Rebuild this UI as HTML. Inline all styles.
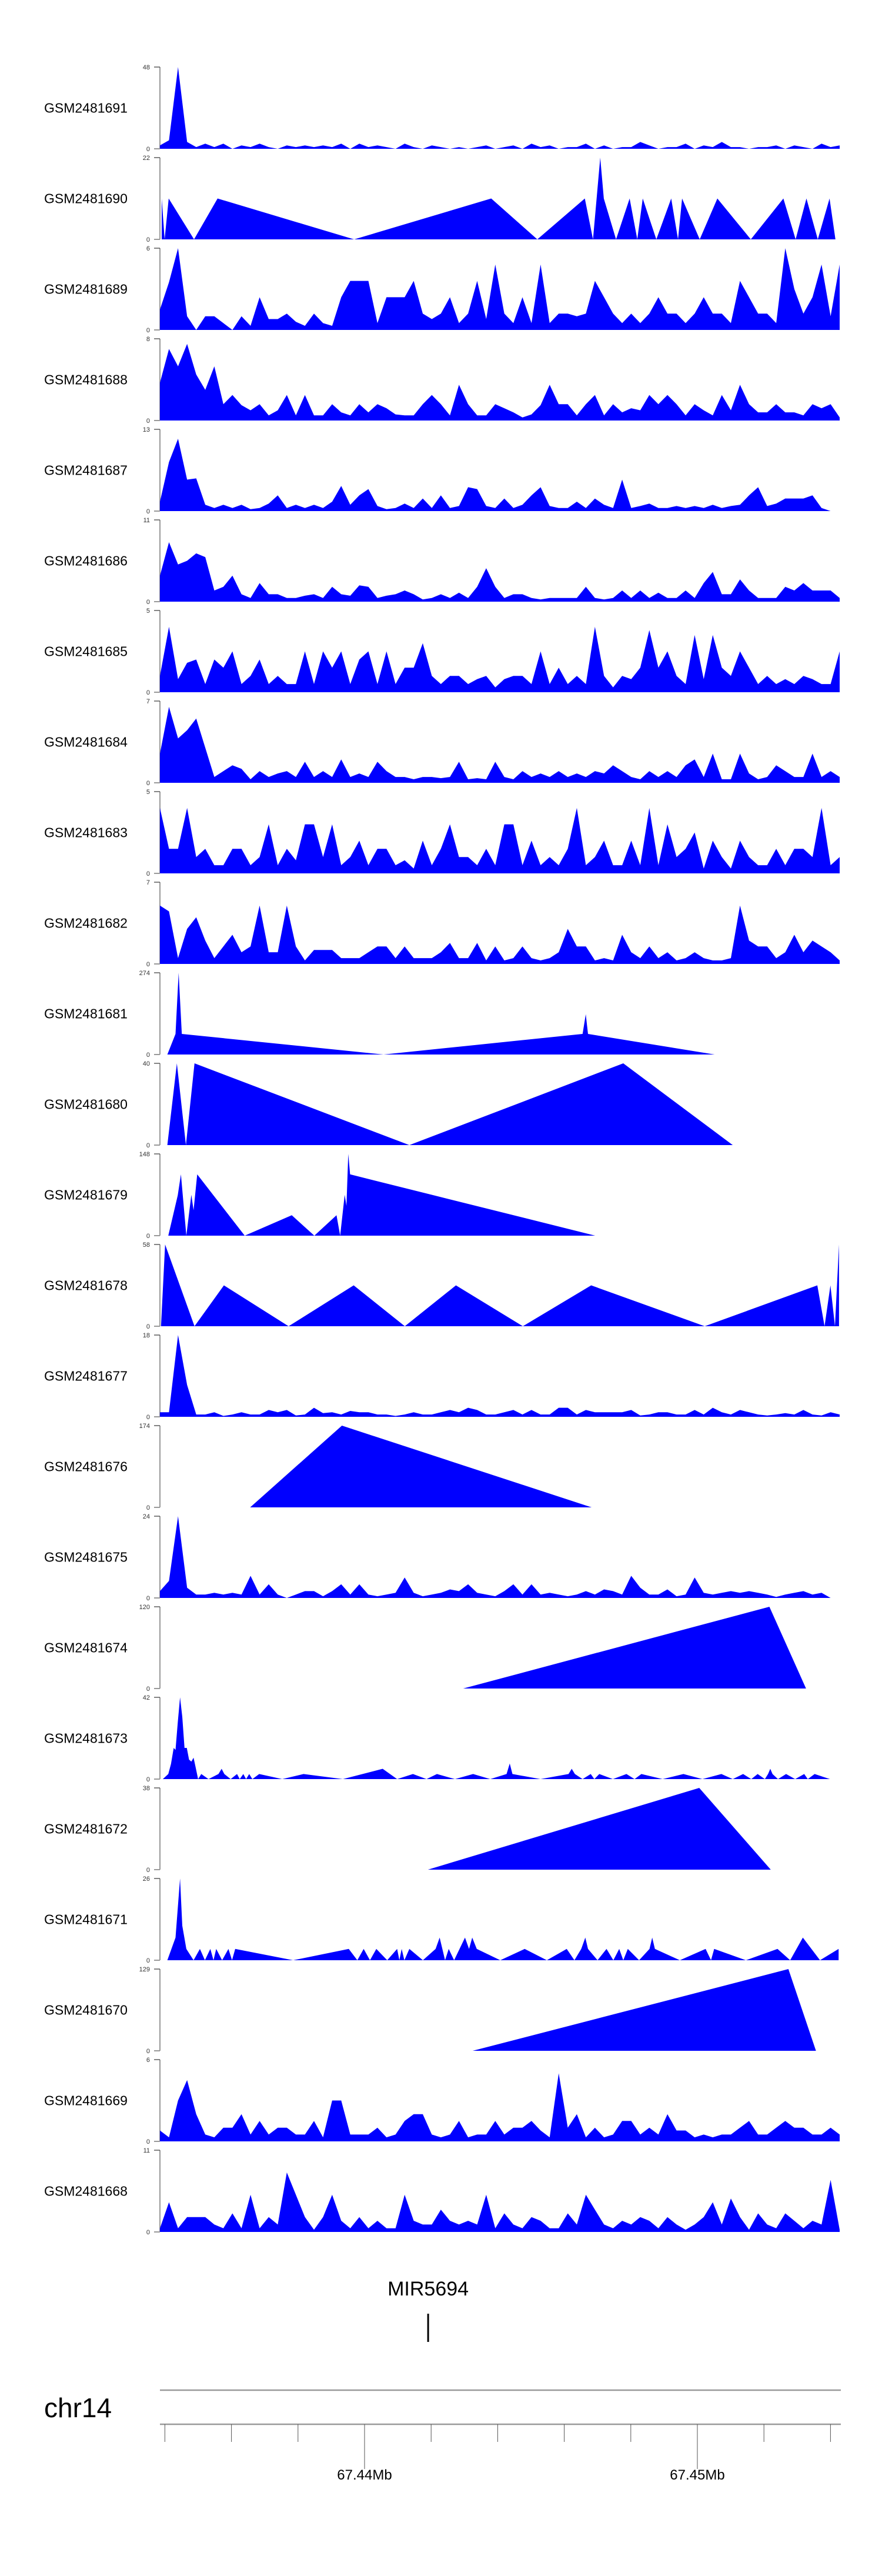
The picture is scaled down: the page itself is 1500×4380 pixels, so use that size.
<!DOCTYPE html>
<html><head><meta charset="utf-8"><title>Coverage tracks chr14</title>
<style>
html,body{margin:0;padding:0;background:#fff;}
svg{display:block;}
text{font-family:"Liberation Sans",Arial,sans-serif;}
</style></head>
<body>
<svg id="chart" width="1500" height="4380" viewBox="0 0 1500 4380" xmlns="http://www.w3.org/2000/svg"></svg>
<script>
// ---- data ----
const sampleNames = ["GSM2481691","GSM2481690","GSM2481689","GSM2481688","GSM2481687","GSM2481686","GSM2481685","GSM2481684","GSM2481683","GSM2481682","GSM2481681","GSM2481680","GSM2481679","GSM2481678","GSM2481677","GSM2481676","GSM2481675","GSM2481674","GSM2481673","GSM2481672","GSM2481671","GSM2481670","GSM2481669","GSM2481668"];
const trackMax = [48,22,6,8,13,11,5,7,5,7,274,40,148,58,18,174,24,120,42,38,26,129,6,11];

// uniformly binned coverage (bins across the region)
const cov1691 = [2,5,48,4,1,3,1,3,0,2, 1,3,1,0,2,1,2,1,2,1, 3,0,3,1,2,1,0,3,1,0, 2,1,0,1,0,1,2,0,1,2, 0,3,1,2,0,1,1,3,0,2, 0,1,1,4,2,0,1,1,3,0, 2,1,4,1,1,0,1,1,2,0, 2,1,0,3,1,2];
const cov1689 = [1.5,3.5,6,1,0,1,1,0.5,0,1, 0.3,2.4,0.8,0.8,1.2,0.6,0.3,1.2,0.5,0.3, 2.4,3.6,3.6,3.6,0.5,2.4,2.4,2.4,3.6,1.2, 0.8,1.2,2.4,0.5,1.2,3.6,0.8,4.8,1.2,0.5, 2.4,0.5,4.8,0.5,1.2,1.2,1,1.2,3.6,2.4, 1.2,0.5,1.2,0.5,1.2,2.4,1.2,1.2,0.5,1.2, 2.4,1.2,1.2,0.5,3.6,2.4,1.2,1.2,0.5,6, 3,1.2,2.4,4.8,1,4.8];
const cov1688 = [3.7,7,5.3,7.5,4.5,3,5.3,1.6,2.5,1.5, 1,1.6,0.5,1,2.5,0.5,2.5,0.5,0.5,1.6, 0.8,0.5,1.6,0.8,1.6,1.2,0.6,0.5,0.5,1.6, 2.5,1.6,0.5,3.5,1.6,0.5,0.5,1.6,1.2,0.8, 0.3,0.6,1.5,3.5,1.6,1.6,0.5,1.6,2.5,0.5, 1.6,0.8,1.2,1,2.5,1.6,2.5,1.6,0.5,1.6, 1,0.5,2.5,1,3.5,1.6,0.8,0.8,1.6,0.8, 0.8,0.5,1.6,1.2,1.6,0.3];
const cov1687 = [1.5,7.8,11.5,5,5.2,1,0.5,1,0.5,1, 0.3,0.5,1.2,2.5,0.5,1,0.5,1,0.5,1.5, 4,1,2.5,3.5,0.8,0.3,0.5,1.2,0.5,2, 0.5,2.5,0.5,0.8,3.8,3.5,0.8,0.5,2,0.5, 1,2.5,3.8,0.8,0.5,0.5,1.5,0.5,2,1, 0.5,5,0.5,0.8,1.2,0.5,0.5,0.8,0.5,0.8, 0.5,1,0.5,0.8,1,2.5,3.8,0.8,1.2,2, 2,2,2.5,0.5,0,0];
const cov1686 = [3.5,8,5,5.5,6.5,6,1.5,2,3.5,1, 0.5,2.5,1,1,0.5,0.5,0.8,1,0.5,2, 1,0.8,2.2,2,0.5,0.8,1,1.5,1,0.3, 0.5,1,0.5,1.2,0.5,2,4.5,2,0.5,1, 1,0.5,0.3,0.5,0.5,0.5,0.5,2,0.5,0.3, 0.5,1.5,0.5,1.5,0.5,1.2,0.5,0.5,1.5,0.5, 2.5,4,1,1,3,1.5,0.5,0.5,0.5,2, 1.5,2.5,1.5,1.5,1.5,0.5];
const cov1685 = [1,4,0.8,1.8,2,0.5,2,1.5,2.5,0.5, 1,2,0.5,1,0.5,0.5,2.5,0.5,2.5,1.5, 2.5,0.5,2,2.5,0.5,2.5,0.5,1.5,1.5,3, 1,0.5,1,1,0.5,0.8,1,0.3,0.8,1, 1,0.5,2.5,0.5,1.5,0.5,1,0.5,4,1, 0.3,1,0.8,1.5,3.8,1.5,2.5,1,0.5,3.5, 0.8,3.5,1.5,1,2.5,1.5,0.5,1,0.5,0.8, 0.5,1,0.8,0.5,0.5,2.5];
const cov1684 = [2.5,6.5,3.8,4.5,5.5,3,0.5,1,1.5,1.2, 0.3,1,0.5,0.8,1,0.5,1.8,0.5,1,0.5, 2,0.5,0.8,0.5,1.8,1,0.5,0.5,0.3,0.5, 0.5,0.4,0.5,1.8,0.3,0.4,0.3,1.8,0.5,0.3, 1,0.5,0.8,0.5,1,0.5,0.8,0.5,1,0.8, 1.5,1,0.5,0.3,1,0.5,1,0.5,1.5,2, 0.5,2.5,0.3,0.3,2.5,0.8,0.3,0.5,1.5,1, 0.5,0.5,2.5,0.5,1,0.5];
const cov1683 = [4,1.5,1.5,4,1,1.5,0.5,0.5,1.5,1.5, 0.5,1,3,0.5,1.5,0.8,3,3,1,3, 0.5,1,2,0.5,1.5,1.5,0.5,0.8,0.3,2, 0.5,1.5,3,1,1,0.5,1.5,0.5,3,3, 0.5,2,0.5,1,0.5,1.5,4,0.5,1,2, 0.5,0.5,2,0.5,4,0.5,3,1,1.5,2.5, 0.3,2,1,0.3,2,1,0.5,0.5,1.5,0.5, 1.5,1.5,1,4,0.5,1];
const cov1682 = [5,4.5,0.5,3,4,2,0.5,1.5,2.5,1, 1.5,5,1,1,5,1.5,0.3,1.2,1.2,1.2, 0.5,0.5,0.5,1,1.5,1.5,0.5,1.5,0.5,0.5, 0.5,1,1.8,0.5,0.5,1.8,0.3,1.5,0.3,0.5, 1.5,0.5,0.3,0.5,1,3,1.5,1.5,0.3,0.5, 0.3,2.5,1,0.5,1.5,0.5,1,0.3,0.5,1, 0.5,0.3,0.3,0.5,5,2,1.5,1.5,0.5,1, 2.5,1,2,1.5,1,0.3];
const cov1677 = [1,1,18,7,0.5,0.5,1,0.2,0.5,1, 0.5,0.5,1.5,1,1.5,0.3,0.5,2,0.8,1, 0.5,1.3,1,1,0.5,0.5,0.2,0.5,1,0.5, 0.5,1,1.5,1,2,1.5,0.5,0.5,1,1.5, 0.5,1.5,0.5,0.5,2,2,0.5,1.5,1,1, 1,1,1.5,0.3,0.5,1,1,0.5,0.5,1.5, 0.5,2,1,0.5,1.5,1,0.5,0.3,0.5,0.8, 0.5,1.5,0.5,0.3,1,0.5];
const cov1675 = [2,5,24,3,1,1,1.5,1,1.5,1, 6.5,1,4,1,0,1,2,2,0.5,2, 4,1,4,1,0.5,1,1.5,6,1.5,0.5, 1,1.5,2.5,2,4,1.5,1,0.5,2,4, 1,4,1,1.5,1,0.5,1,2,1,2.5, 2,1,6.5,3,1,1,2.5,0.5,1,6, 1.5,1,1.5,2,1.5,2,1.5,1,0.3,1, 1.5,2,1,1.5,0,0];
const cov1669 = [0.8,0.3,3,4.5,2,0.5,0.3,1,1,2, 0.5,1.5,0.5,1,1,0.5,0.5,1.5,0.3,3, 3,0.5,0.5,0.5,1,0.3,0.5,1.5,2,2, 0.5,0.3,0.5,1.5,0.3,0.5,0.5,1.5,0.5,1, 1,1.5,0.8,0.3,5,1,2,0.3,1,0.3, 0.5,1.5,1.5,0.5,1,0.5,2,0.8,0.8,0.3, 0.5,0.3,0.5,0.5,1,1.5,0.5,0.5,1,1.5, 1,1,0.5,0.5,1,0.5];
const cov1668 = [0.5,4,0.5,2,2,2,1,0.5,2.5,0.5, 5,0.5,2,1,8,5,2,0.3,2,5, 1.5,0.5,2,0.5,1.5,0.5,0.5,5,1.5,1, 1,3,1.5,1,1.5,1,5,0.5,2.5,1, 0.5,2,1.5,0.5,0.5,2.5,1,5,3,1, 0.5,1.5,1,2,1.5,0.5,2,1,0.3,1, 2,4,1,4.5,2,0.3,2.5,1,0.5,2.5, 1.5,0.5,1.5,1,7,0.3];

// explicit breakpoints (position in bins, value)
const pos1690 = [19.5,26,35,91,143,445,748,850,955,973,989,997,1024,1054,1071,1083,1113,1146,1161,1170,1209,1248,1322,1394,1421,1445,1470,1496,1509];
const val1690 = [11,0,11,0,11,0,11,0,11,0,22,11,0,11,0,11,0,11,0,11,0,11,0,11,0,11,0,11,0];
const pos1681 = [32,50,57,64,510,950,957,962,1242];
const val1681 = [0,69,274,69,0,69,135,69,0];
const pos1680 = [32,53,73,92,567,1040,1282];
const val1680 = [0,40,0,40,0,40,0];
const pos1679 = [34,55,62,74,85,90,98,203,307,357,406,414,424,428,432,436,978];
const val1679 = [0,73,111,0,74,46,111,0,37,0,37,0,74,54,148,111,0];
const pos1678 = [18,27,92,157,300,444,557,670,818,969,1220,1469,1485,1498,1508,1517];
const val1678 = [0,58,0,29,0,29,0,29,0,29,0,29,0,29,0,58];
const pos1676 = [215,418,970];
const val1676 = [0,174,0];
const pos1674 = [686,1363,1444];
const val1674 = [0,120,0];
const pos1673 = [22,34,40,46,50,55,60,65,70,75,80,85,90,95,100,107,123,145,152,158,172,186,192,200,206,213,220,235,286,333,420,508,540,575,605,628,668,708,746,782,789,795,857,919,926,933,950,968,976,987,1017,1047,1065,1080,1127,1173,1215,1257,1282,1305,1323,1337,1353,1360,1365,1370,1382,1400,1420,1440,1448,1463,1497];
const val1673 = [0,2.6,7.8,16,15,29,42,32,16,16,10,9,11,5.5,0,2.6,0,2.6,5.3,2.6,0,2.6,0,2.6,0,2.6,0,2.6,0,2.6,0,5.3,0,2.6,0,2.6,0,2.6,0,2.6,8,2.6,0,2.6,5.3,2.6,0,2.6,0,2.6,0,2.6,0,2.6,0,2.6,0,2.6,0,2.6,0,2.6,0,2.6,5.3,2.6,0,2.6,0,2.6,0,2.6,0];
const pos1672 = [608,1208,1366];
const val1672 = [0,38,0];
const pos1671 = [32,50,60,65,74,90,104,115,127,134,140,153,167,175,182,310,433,452,466,480,494,518,540,545,550,556,567,597,625,634,646,654,666,690,699,706,716,768,822,871,915,932,947,956,962,983,1003,1018,1031,1040,1050,1075,1098,1104,1110,1165,1222,1234,1241,1311,1381,1409,1437,1475,1516];
const val1671 = [0,7.2,26,11,3.6,0,3.6,0,3.6,0,3.6,0,3.6,0,3.6,0,3.6,0,3.6,0,3.6,0,3.6,0,3.6,0,3.6,0,3.6,7.2,0,3.6,0,7.2,3.6,7.2,3.6,0,3.6,0,3.6,0,3.6,7.2,3.6,0,3.6,0,3.6,0,3.6,0,3.6,7.2,3.6,0,3.6,0,3.6,0,3.6,0,7.2,0,3.6];
const pos1670 = [707,1405,1466];
const val1670 = [0,129,0];

const axisTicksMb = [67.434,67.436,67.438,67.44,67.442,67.444,67.446,67.448,67.45,67.452,67.454];
const axisLabelsMb = [67.44,67.45];
const geneName = "MIR5694";
const genePosMb = 67.44191;

// ---- layout ----
const svg = document.getElementById('chart');
const NS = 'http://www.w3.org/2000/svg';
const binStart = 15.6, binEnd = 1518.4;
const plotL = 272, plotR = 1428;
const xBin = b => plotL + (b - binStart) / (binEnd - binStart) * (plotR - plotL);
const xMb = mb => 620 + (mb - 67.44) / 0.002 * 113.2;
const trackTop = i => 114 + i * 154;
const trackH = 139;

function el(tag, attrs, parent) {
  const e = document.createElementNS(NS, tag);
  for (const k in attrs) e.setAttribute(k, attrs[k]);
  (parent || svg).appendChild(e);
  return e;
}
function uniform(vals) {
  const step = (binEnd - binStart) / (vals.length - 1);
  return vals.map((v, i) => [binStart + i * step, v]);
}
function pairs(p, v) { return p.map((x, i) => [x, v[i]]); }

const trackData = [
  uniform(cov1691), pairs(pos1690, val1690), uniform(cov1689), uniform(cov1688),
  uniform(cov1687), uniform(cov1686), uniform(cov1685), uniform(cov1684),
  uniform(cov1683), uniform(cov1682), pairs(pos1681, val1681), pairs(pos1680, val1680),
  pairs(pos1679, val1679), pairs(pos1678, val1678), uniform(cov1677), pairs(pos1676, val1676),
  uniform(cov1675), pairs(pos1674, val1674), pairs(pos1673, val1673), pairs(pos1672, val1672),
  pairs(pos1671, val1671), pairs(pos1670, val1670), uniform(cov1669), uniform(cov1668)
];

sampleNames.forEach((name, i) => {
  const top = trackTop(i), base = top + trackH, max = trackMax[i];
  const g = el('g', {});
  
  

  const lab = el('text', {x: 75, y: top + trackH / 2 + 8, 'font-size': 23, fill: '#000'}, g);
  lab.textContent = name;
  
  

  const ax = el('line', {x1: 272, y1: top, x2: 272, y2: base, stroke: '#999', 'stroke-width': 2}, g);
  
  
  el('line', {x1: 262, y1: top, x2: 272, y2: top, stroke: '#333', 'stroke-width': 1.2}, g);
  el('line', {x1: 262, y1: base, x2: 272, y2: base, stroke: '#999', 'stroke-width': 2}, g);
  const tMax = el('text', {x: 255, y: top + 4, 'font-size': 11, 'text-anchor': 'end', fill: '#333'}, g);
  tMax.textContent = String(max);
  
  
  const t0 = el('text', {x: 255, y: base + 4, 'font-size': 11, 'text-anchor': 'end', fill: '#333'}, g);
  t0.textContent = '0';
  
  

  const pts = trackData[i];
  let d = 'M' + xBin(pts[0][0]).toFixed(1) + ',' + base;
  pts.forEach(p => { d += ' L' + xBin(p[0]).toFixed(1) + ',' + (base - Math.min(p[1], max) / max * trackH).toFixed(1); });
  d += ' L' + xBin(pts[pts.length - 1][0]).toFixed(1) + ',' + base + ' Z';
  const area = el('path', {d: d, fill: '#0000ff', stroke: 'none'}, g);
  
  
});

// gene annotation
const gx = xMb(genePosMb);
const gl = el('text', {x: gx, y: 3903, 'font-size': 34, 'text-anchor': 'middle', fill: '#000'});
gl.textContent = geneName;


const gm = el('line', {x1: gx, y1: 3934, x2: gx, y2: 3982, stroke: '#000', 'stroke-width': 3});



// genome axis
const chr = el('text', {x: 75, y: 4110, 'font-size': 46, fill: '#000'});
chr.textContent = 'chr14';


const l1 = el('line', {x1: 272, y1: 4064, x2: 1430, y2: 4064, stroke: '#999', 'stroke-width': 2.5});


const l2 = el('line', {x1: 272, y1: 4122, x2: 1430, y2: 4122, stroke: '#999', 'stroke-width': 2.5});


axisTicksMb.forEach(mb => {
  const x = xMb(mb);
  const major = axisLabelsMb.some(m => Math.abs(m - mb) < 1e-6);
  const t = el('line', {x1: x, y1: 4122, x2: x, y2: major ? 4198 : 4152, stroke: '#555', 'stroke-width': 1});
  
  
});
axisLabelsMb.forEach(mb => {
  const t = el('text', {x: xMb(mb), y: 4216, 'font-size': 24, 'text-anchor': 'middle', fill: '#000'});
  t.textContent = mb.toFixed(2) + 'Mb';
  
  
});
</script>
</body></html>
